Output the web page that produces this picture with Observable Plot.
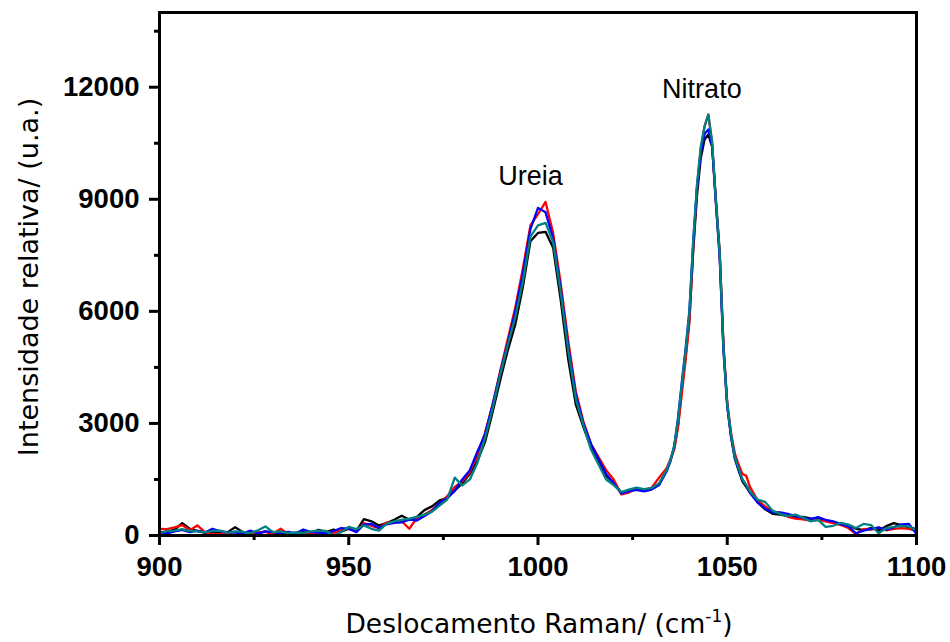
<!DOCTYPE html>
<html><head><meta charset="utf-8">
<script src="https://cdn.jsdelivr.net/npm/d3@7"></script>
<script src="https://cdn.jsdelivr.net/npm/@observablehq/plot@0.6"></script>
<style>body{margin:0;background:#fff;}</style>
</head><body><div id="chart"></div>
<script>
// Raman shift (cm-1)
const xs = [900,902,904,906,908,910,912,914,916,918,920,922,924,926,928,930,932,934,936,938,940,942,944,946,948,950,952,954,956,958,960,962,964,966,968,970,972,974,976,978,980,
982,984,986,988,990,992,994,996,998,1000,1002,1004,1006,1008,1010,1012,1014,1016,1018,1020,1022,1024,1026,1028,1030,1032,1034,
1035,1036,1037,1038,1039,1040,1041,1042,1043,1044,1045,1046,1047,1048,1049,1050,1051,1052,1053,1054,1055,1056,
1058,1060,1062,1064,1066,1068,1070,1072,1074,1076,1078,1080,1082,1084,1086,1088,1090,1092,1094,1096,1098,1100];

const blackValues = [80,100,160,330,180,120,80,100,60,90,220,90,40,60,110,40,80,30,60,120,60,150,90,160,100,180,120,440,380,270,330,420,530,420,500,680,780,940,1000,1200,1400,
1650,2000,2500,3300,4150,4950,5650,6650,7880,8100,8130,7700,6300,4700,3500,2900,2350,1950,1600,1400,1150,1200,1250,1230,1260,1380,1750,
2000,2350,2950,3950,4800,5800,7600,9100,10100,10600,10735,10400,9000,7600,5100,3500,2650,2050,1750,1450,1300,1150,
900,700,580,560,520,480,500,460,440,400,360,320,280,180,150,200,130,250,330,280,220,170];

const redValues = [180,170,220,280,140,270,90,30,40,60,100,40,60,80,100,50,180,40,70,60,50,80,100,70,140,220,100,330,260,200,350,360,380,180,470,560,680,860,1050,1300,1450,
1700,2150,2750,3500,4400,5250,6100,7150,8300,8600,8930,8100,6750,5200,3850,3050,2450,2100,1750,1500,1100,1150,1260,1210,1280,1550,1800,
2050,2300,2900,3800,4700,5700,7700,9300,10350,10950,11270,10500,8900,7500,5050,3550,2750,2200,1900,1650,1600,1300,
950,780,650,600,500,450,430,400,420,380,330,280,200,40,170,160,220,140,180,200,180,120];

const blueValues = [50,60,110,150,90,130,80,180,110,90,80,50,130,60,110,90,70,100,60,160,90,80,60,120,200,180,90,290,310,200,300,340,350,430,400,520,650,880,1000,1200,1500,
1750,2250,2700,3500,4350,5150,6000,7000,8200,8770,8650,7950,6600,5050,3750,3000,2450,2050,1650,1400,1130,1180,1220,1180,1230,1350,1720,
2000,2400,3150,4100,5000,6000,7800,9300,10250,10750,10870,10450,8900,7450,4950,3450,2650,2100,1750,1500,1350,1150,
880,720,620,620,580,520,470,440,490,420,380,300,250,60,130,180,210,160,220,300,310,40];

const tealValues = [60,120,130,170,120,110,90,120,130,70,110,100,60,140,240,90,110,60,80,70,110,130,120,0,90,230,170,270,180,130,320,380,420,450,500,560,640,800,960,1550,1340,
1500,1950,2600,3400,4300,5100,5850,6800,8000,8300,8370,7850,6500,4950,3650,2950,2300,1900,1500,1350,1160,1230,1280,1240,1270,1400,1760,
2020,2400,3100,4050,4950,6000,7900,9400,10400,10950,11268,10550,8950,7550,5000,3500,2700,2100,1800,1500,1350,1180,
960,900,660,580,520,560,480,380,420,230,260,340,290,200,310,280,60,200,230,260,240,134];

const seriesColors = ["#000000", "#ff0000", "#0000ff", "#008080"];
const seriesValues = [blackValues, redValues, blueValues, tealValues];

const xMajorTicks = [900, 950, 1000, 1050, 1100];
const xMinorTicks = [925, 975, 1025, 1075];
const yMajorTicks = [0, 3000, 6000, 9000, 12000];
const yMinorTicks = [1500, 4500, 7500, 10500, 13500];

const peakLabels = ["Ureia", "Nitrato"];
const peakLabelX = [998, 1043.3];
const peakLabelY = [9620, 11950];

const xTitle = "Deslocamento Raman/ (cm";
const xTitleSup = "-1";
const yTitle = "Intensidade relativa/ (u.a.)";

const annotations = peakLabels.map((t, i) => ({label: t, x: peakLabelX[i], y: peakLabelY[i]}));

const chart = Plot.plot({
  width: 950, height: 642,
  marginLeft: 159, marginRight: 34, marginTop: 12, marginBottom: 107,
  style: {fontFamily: "'Liberation Sans', Arial, sans-serif", fontSize: "27.5px", fontWeight: "bold", background: "#fff", color: "#000"},
  x: {domain: [900, 1100]},
  y: {domain: [0, 14000]},
  marks: [
    ...seriesValues.map((vals, k) => Plot.line(xs.map((x, i) => ({x, y: vals[i]})), {x: "x", y: "y", stroke: seriesColors[k], strokeWidth: 2.3})),
    Plot.frame({stroke: "#000", strokeWidth: 3}),
    Plot.axisX({ticks: xMajorTicks, tickSize: 10, tickPadding: 11, strokeWidth: 3, tickFormat: d => String(d), label: null}),
    Plot.axisX({ticks: xMinorTicks, tickSize: 5, strokeWidth: 3, tickFormat: () => "", label: null}),
    Plot.axisY({ticks: yMajorTicks, tickSize: 10, tickPadding: 10, strokeWidth: 3, tickFormat: d => String(d), label: null}),
    Plot.axisY({ticks: yMinorTicks, tickSize: 5, strokeWidth: 3, tickFormat: () => "", label: null}),
    Plot.text(annotations, {x: "x", y: "y", text: "label", fontSize: 27, fontWeight: "normal", fontFamily: "'Liberation Sans', Arial, sans-serif", fill: "#000"})
  ]
});

const svg = d3.select(chart);
const xt = svg.append("text")
  .attr("x", 539).attr("y", 633)
  .attr("text-anchor", "middle")
  .style("font-family", "'DejaVu Sans', Verdana, sans-serif")
  .style("font-size", "26.5px").style("font-weight", "normal").attr("fill", "#000");
xt.append("tspan").text(xTitle);
xt.append("tspan").attr("dy", -11).style("font-size", "17px").text(xTitleSup);
xt.append("tspan").attr("dy", 11).text(")");

svg.append("text")
  .attr("transform", "translate(38,277) rotate(-90)")
  .attr("text-anchor", "middle")
  .style("font-family", "'DejaVu Sans', Verdana, sans-serif")
  .style("font-size", "27px").style("font-weight", "normal").attr("fill", "#000")
  .text(yTitle);

document.getElementById("chart").appendChild(chart);
</script>
</body></html>
